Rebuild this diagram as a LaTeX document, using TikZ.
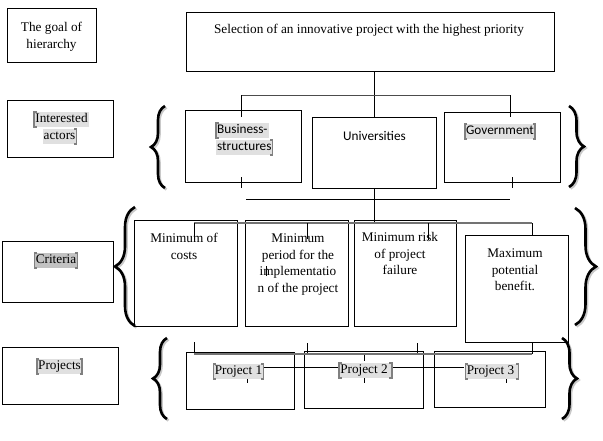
\documentclass[tikz,border=0pt]{standalone}
\usepackage{fontspec}
\setmainfont{Liberation Serif}
\newfontfamily\calfont{Carlito}
\usetikzlibrary{decorations.pathreplacing,calc}
\definecolor{hlgray}{gray}{0.88}
\definecolor{hldark}{gray}{0.76}
\definecolor{bkgray}{gray}{0.5}
\definecolor{lngray}{gray}{0.45}
\newcommand\mkbox[5]{\node[box,minimum width={(#4-#2)*1pt},minimum height={(#5-#3)*1pt}] (#1) at (#2,#3) {};}
\newcommand\lbk[1]{\draw[bkt] ([xshift=2.5pt]#1.north west) -- (#1.north west) -- (#1.south west) -- ([xshift=2.5pt]#1.south west);}
\newcommand\rbk[1]{\draw[bkt] ([xshift=-2.5pt]#1.north east) -- (#1.north east) -- (#1.south east) -- ([xshift=-2.5pt]#1.south east);}
\begin{document}
\begin{tikzpicture}[x=1pt,y=-1pt,
  box/.style={draw=black,line width=0.9pt,inner sep=0pt,outer sep=0pt,anchor=north west},
  txt/.style={font=\fontsize{13.25}{16.5}\selectfont,inner sep=0pt,anchor=base,align=center},
  sans/.style={font=\calfont\fontsize{13.25}{16.5}\selectfont,inner sep=0pt,anchor=base},
  hl/.style={fill=hlgray,inner xsep=1pt,inner ysep=0.5pt,text height=10pt,text depth=3.5pt},
  bkt/.style={draw=bkgray,line width=1.6pt},
  conn/.style={draw=black,line width=0.9pt},
  gconn/.style={draw=lngray,line width=1.1pt},
  tick/.style={draw=black,line width=0.7pt},
  brc/.style={decorate,decoration={brace,amplitude=#1},line width=2.6pt,draw=black},
  brs/.style={decorate,decoration={brace,amplitude=#1},line width=2.6pt,draw=black!35,opacity=0.6},
]
\useasboundingbox[fill=white] (0,0) rectangle (603,440);

% ---------- braces ----------
\begin{scope}[shift={(1.5,1.5)}]
\draw[brs=14] (165,188) -- (165,106);
\draw[brs=15] (569,106) -- (569,187);
\draw[brs=20] (135,326) -- (135,207);
\draw[brs=21] (575,208) -- (575,325);
\draw[brs=14] (167,419) -- (167,338);
\draw[brs=15] (562,338) -- (562,419);
\end{scope}
\draw[brc=14] (165,188) -- (165,106);
\draw[brc=15] (569,106) -- (569,187);
\draw[brc=20] (135,326) -- (135,207);
\draw[brc=21] (575,208) -- (575,325);
\draw[brc=14] (167,419) -- (167,338);
\draw[brc=15] (562,338) -- (562,419);

% ---------- boxes ----------
\mkbox{goalLbl}{7}{8}{96}{62}
\mkbox{goal}{186}{12}{554}{71}
\mkbox{actLbl}{7}{100}{113}{157}
\mkbox{bus}{185}{110}{301}{182}
\mkbox{univ}{312}{117}{436}{188}
\mkbox{gov}{444}{112}{560}{182}
\mkbox{critLbl}{2}{241}{113}{302}
\mkbox{cA}{134}{220}{237}{326}
\mkbox{cB}{245}{220}{348}{326}
\mkbox{cC}{354}{220}{456}{326}
\mkbox{cD}{465}{235}{568}{342}
\mkbox{projLbl}{2}{347}{118}{404}
\mkbox{pA}{186}{352}{294}{409}
\mkbox{pB}{304}{351}{423}{408}
\mkbox{pC}{434}{351}{545}{407}

% ---------- connectors ----------
\coordinate (aL) at (241,95);
\coordinate (aR) at (510,95);
\coordinate (aLd) at (241,117);
\coordinate (aRd) at (510,117);
\draw[conn] (goal.south -| univ.north) -- (univ.north);
\draw[draw=black!70,line width=1pt] (aL) -- (aR);
\draw[conn] (aL) -- (aLd);
\draw[conn] (aR) -- (aRd);
\coordinate (tb1) at (241,177); \coordinate (tb2) at (241,188);
\coordinate (tg1) at (512,177); \coordinate (tg2) at (512,188);
\draw[conn] (tb1) -- (tb2);
\draw[conn] (tg1) -- (tg2);
\coordinate (hL) at (246,199); \coordinate (hR) at (510,199);
\draw[conn] (hL) -- (hR);
\coordinate (cJ) at (374,223);
\draw[conn] (univ.south) -- (cJ);
\coordinate (cbL) at (194,223); \coordinate (cbR) at (532,223);
\draw[gconn] (cbL) -- (cbR);
\coordinate (s1) at (194,240); \coordinate (s2a) at (307,223); \coordinate (s2) at (307,239);
\coordinate (s3a) at (428,223); \coordinate (s3) at (428,240);
\draw[conn] (cbL) -- (s1);
\draw[conn] (s2a) -- (s2);
\draw[conn] (s3a) -- (s3);
\draw[conn] (cbR) -- (cbR |- cD.north);
% projects bar
\coordinate (pbL) at (194,354); \coordinate (pbR) at (532,354);
\coordinate (q1) at (194,342); \coordinate (q2) at (307,343); \coordinate (q2d) at (307,355);
\coordinate (q3) at (417,343); \coordinate (q3d) at (417,355);
\draw[conn] (q1) -- (pbL);
\draw[conn] (q2) -- (q2d);
\draw[conn] (q3) -- (q3d);
\draw[conn] (cbR |- cD.south) -- (pbR);
\draw[gconn] (pbL) -- (pbR);
\coordinate (mL) at (263,367); \coordinate (mR) at (464,367);
\draw[conn,line width=0.8pt] (mL) -- (mR);
% small stray ticks
\coordinate (k1) at (247,377); \coordinate (k1d) at (247,383);
\coordinate (k2) at (364,355); \coordinate (k2d) at (364,361);
\coordinate (k3) at (364,377); \coordinate (k3d) at (364,383);
\coordinate (k4) at (506,377); \coordinate (k4d) at (506,383);
\coordinate (k5) at (266,266); \coordinate (k5d) at (266,276);
\draw[tick] (k1) -- (k1d);
\draw[tick] (k2) -- (k2d);
\draw[tick] (k3) -- (k3d);
\draw[tick] (k4) -- (k4d);
\draw[tick] (k5) -- (k5d);

% ---------- texts (anchor=base is the last line's baseline) ----------
\node[txt] (tGoalLbl) at (51.5,48) {The goal of\\hierarchy};
\node[txt] (tGoal) at (369,33.5) {Selection of an innovative project with the highest priority};

\node[txt,hl] (tAct1) at (61.5,122.5) {Interested};
\node[txt,hl] (tAct2) at (59.5,139.5) {actors};
\lbk{tAct1}\rbk{tAct2}

\node[sans,hl,anchor=base west] (tBus1) at (216,133.5) {Business-};
\node[sans,hl,anchor=base west] (tBus2) at (216,150.5) {structures};
\lbk{tBus1}\rbk{tBus2}

\node[sans] (tUniv) at (374.5,140.5) {Universities};

\node[sans,hl] (tGov) at (500,134.5) {Government};
\lbk{tGov}\rbk{tGov}

\node[txt,hl,fill=hldark] (tCrit) at (56,263.5) {Criteria};
\lbk{tCrit}\rbk{tCrit}

\node[txt] (tcA) at (184,259) {Minimum of\\costs};
\node[txt] (tcB) at (298,292) {Minimum\\period for the\\implementatio\\n of the project};
\node[txt] (tcC) at (400,274.5) {Minimum risk\\of project\\failure};
\node[txt] (tcD) at (515,290.5) {Maximum\\potential\\benefit.};

\node[txt,hl] (tProj) at (59.5,369.5) {Projects};
\lbk{tProj}\rbk{tProj}

\node[txt,hl] (tpA) at (238.5,374.5) {Project 1};
\lbk{tpA}\rbk{tpA}
\node[txt,hl] (tpB) at (365.5,373.5) {Project 2\hspace{3pt}};
\lbk{tpB}\rbk{tpB}
\node[txt,hl] (tpC) at (492,374.5) {Project 3\hspace{3pt}};
\lbk{tpC}\rbk{tpC}
\end{tikzpicture}
\end{document}
